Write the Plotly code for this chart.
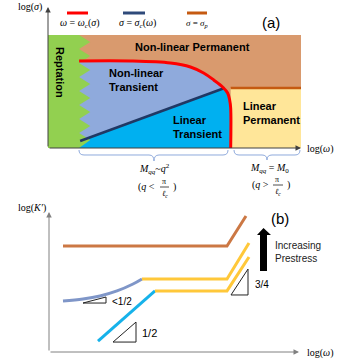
import plotly.graph_objects as go

W, H = 340, 364

# ---------------- Panel (a): regime map, log(omega) vs log(sigma) (arbitrary log units 0-10)
box_x = [0, 10, 10, 0]
box_y = [0, 0, 10, 10]
# reptation zig-zag boundary (top to bottom)
rept_x = [1.23, 1.67, 1.23, 1.67, 1.23, 1.67, 1.23, 1.67, 1.23, 1.67, 1.23, 1.67, 1.23, 1.67, 1.23, 1.67, 1.23]
rept_y = [10.0, 9.38, 8.76, 8.14, 7.52, 6.90, 6.28, 5.66, 5.04, 4.42, 3.81, 3.19, 2.57, 1.95, 1.33, 0.71, 0.0]
# omega = omega_c(sigma)
wc_x = [1.23, 3.25, 4.84, 5.63, 6.15, 6.55, 6.90, 7.10, 7.18, 7.22, 7.22]
wc_y = [7.70, 7.70, 7.52, 7.17, 6.64, 6.02, 5.40, 4.87, 4.25, 3.54, 0.0]
# sigma = sigma_c(omega)
sc_x = [1.27, 6.98]
sc_y = [0.62, 5.31]
# sigma = sigma_p
sp_x = [7.22, 10.0]
sp_y = [5.31, 5.31]

# ---------------- Panel (b): log(K') vs log(omega)
hi_x = [0.56, 7.12, 7.88]
hi_y = [7.36, 7.36, 9.44]
nl_x = [0.56, 1.36, 2.04, 2.72, 3.36, 3.72]
nl_y = [3.54, 3.68, 3.89, 4.24, 4.72, 5.07]
mid_x = [3.72, 7.12, 8.0]
mid_y = [5.07, 5.07, 7.57]
lin_x = [1.96, 4.24]
lin_y = [0.76, 4.24]
low_x = [4.24, 7.12, 8.0]
low_y = [4.24, 4.24, 6.60]
tri1_x = [1.36, 2.28, 2.28, 1.36]
tri1_y = [3.40, 3.40, 3.82, 3.40]
tri2_x = [2.56, 3.48, 3.48, 2.56]
tri2_y = [0.69, 0.69, 2.08, 0.69]
tri3_x = [7.28, 7.96, 7.96, 7.28]
tri3_y = [3.96, 3.96, 5.76, 3.96]
arrow_x = [8.44, 8.72, 8.72, 8.88, 8.58, 8.32, 8.44, 8.44]
arrow_y = [5.63, 5.63, 8.13, 8.13, 8.61, 8.13, 8.13, 5.63]

C = dict(tan="#D99A6E", green="#92D050", bluegray="#8FAADC", cyan="#00B0F0",
         yellow="#FFE699", red="#FF0000", navy="#203864", orange="#C55A11",
         b_orange="#CC7844", b_yellow="#FFC83A", b_bluegray="#7F96C8", b_cyan="#16B2EA")

fig = go.Figure()


def poly(x, y, color, ax="a"):
    fig.add_trace(go.Scatter(x=x, y=y, fill="toself", fillcolor=color, mode="lines",
                             line=dict(width=0, color=color), hoverinfo="skip",
                             xaxis="x" if ax == "a" else "x2", yaxis="y" if ax == "a" else "y2"))


def line(x, y, color, width, ax="a", shape="linear"):
    fig.add_trace(go.Scatter(x=x, y=y, mode="lines", line=dict(color=color, width=width, shape=shape),
                             hoverinfo="skip",
                             xaxis="x" if ax == "a" else "x2", yaxis="y" if ax == "a" else "y2"))


# panel a regions
poly(box_x, box_y, C["tan"])
poly(wc_x + [1.23], wc_y + [0.0], C["bluegray"])
poly(sc_x + wc_x[-4:] + [1.0], sc_y + wc_y[-4:] + [0.0], C["cyan"])
poly([sp_x[0], sp_x[1], sp_x[1], sp_x[0]], [0, 0, sp_y[0], sp_y[0]], C["yellow"])
poly([0] + rept_x + [0], [10] + rept_y + [0], C["green"])
line(sc_x, sc_y, C["navy"], 2.5)
line(wc_x, wc_y, C["red"], 3, shape="spline")
line(sp_x, sp_y, C["orange"], 2.5)

# panel b
line(hi_x, hi_y, C["b_orange"], 3, ax="b")
line(nl_x, nl_y, C["b_bluegray"], 3, ax="b", shape="spline")
line(mid_x, mid_y, C["b_yellow"], 3, ax="b")
line(lin_x, lin_y, C["b_cyan"], 3, ax="b")
line(low_x, low_y, C["b_yellow"], 3, ax="b")
for tx, ty in [(tri1_x, tri1_y), (tri2_x, tri2_y), (tri3_x, tri3_y)]:
    line(tx, ty, "#222222", 1, ax="b")
poly(arrow_x, arrow_y, "#000000", ax="b")


def px(x):
    return x / W


def py(y):
    return 1 - y / H


ann = []
SANS = "Liberation Sans, Arial, sans-serif"
SERIF = "Liberation Serif, DejaVu Serif, serif"


def txt(x, y, s, size, family=SANS, color="black", xanchor="center", align="center", angle=0):
    ann.append(dict(x=px(x), y=py(y), xref="paper", yref="paper", text=s, showarrow=False,
                    font=dict(family=family, size=size, color=color), xanchor=xanchor,
                    yanchor="middle", align=align, textangle=angle))


def arrow(x0, y0, x1, y1, color):
    ann.append(dict(x=px(x1), y=py(y1), xref="paper", yref="paper", text="", showarrow=True,
                    ax=x0 - x1, ay=y0 - y1, arrowhead=2, arrowsize=1.1, arrowwidth=1,
                    arrowcolor=color, standoff=0, startstandoff=0))


# axes arrows
arrow(48, 148, 48, 7, "#404040")
arrow(48, 148, 301, 148, "#404040")
arrow(49, 352, 49, 212, "#808080")
arrow(49, 352, 299, 352, "#808080")

# region labels
txt(60, 72, "<b>Reptation</b>", 11, angle=90)
txt(192, 47, "<b>Non-linear Permanent</b>", 11)
txt(107, 80, "<b>Non-linear<br>Transient</b>", 11, xanchor="left", align="left")
txt(171, 127, "<b>Linear<br>Transient</b>", 11, xanchor="left", align="left")
txt(241, 113, "<b>Linear<br>Permanent</b>", 11, xanchor="left", align="left")

# legend text
txt(80, 24, "<i>ω</i> = <i>ω<sub>c</sub></i>(<i>σ</i>)", 10, family=SERIF)
txt(137, 24, "<i>σ</i> = <i>σ<sub>c</sub></i>(<i>ω</i>)", 10, family=SERIF)
txt(197, 24, "<i>σ</i> = <i>σ<sub>p</sub></i>", 9, family=SERIF)
txt(271, 22, "(a)", 15)
txt(280, 218, "(b)", 15)

# axis titles
txt(30, 7, "log(<i>σ</i>)", 10, family=SERIF)
txt(320, 149, "log(<i>ω</i>)", 10, family=SERIF)
txt(32, 208, "log(<i>K′</i>)", 10, family=SERIF)
txt(320, 353, "log(<i>ω</i>)", 10, family=SERIF)

# bracket labels
txt(154, 169, "<i>M<sub>qq</sub></i>~<i>q</i><sup>2</sup>", 10, family=SERIF)
txt(157, 187, "(<i>q</i> <", 10, family=SERIF, xanchor="right")
txt(164, 181, "π", 8, family=SERIF)
txt(165, 194, "<i>ℓ<sub>c</sub></i>", 8, family=SERIF)
txt(171, 187, ")", 10, family=SERIF, xanchor="left")
txt(269, 168, "<i>M<sub>qq</sub></i> = <i>M</i><sub>0</sub>", 10, family=SERIF)
txt(271, 185, "(<i>q</i> >", 10, family=SERIF, xanchor="right")
txt(277, 179, "π", 8, family=SERIF)
txt(278, 192, "<i>ℓ<sub>c</sub></i>", 8, family=SERIF)
txt(285, 185, ")", 10, family=SERIF, xanchor="left")

# panel b labels
txt(110, 301, "<1/2", 10, xanchor="left")
txt(140, 333, "1/2", 11, xanchor="left")
txt(253, 284, "3/4", 10, xanchor="left")
txt(273, 252, "Increasing<br>Prestress", 10, xanchor="left", align="left", color="#222222")

shapes = []


def seg(x0, y0, x1, y1, color, width):
    shapes.append(dict(type="line", xref="paper", yref="paper", x0=px(x0), y0=py(y0),
                       x1=px(x1), y1=py(y1), line=dict(color=color, width=width)))


seg(67, 13, 88, 13, C["red"], 3)
seg(123, 13, 145, 13, "#2F4A7A", 3)
seg(187, 13, 207, 13, C["orange"], 3)
seg(160, 187, 169, 187, "#222222", 0.8)
seg(273, 185, 283, 185, "#222222", 0.8)


def bracket(x0, x1, xm, top, mid, tip):
    pts = [("M", x0, top), ("Q", x0, mid), ("", x0 + 5, mid), ("L", xm - 5, mid),
           ("Q", xm, mid), ("", xm, tip), ("Q", xm, mid), ("", xm + 5, mid),
           ("L", x1 - 5, mid), ("Q", x1, mid), ("", x1, top)]
    s = " ".join(f"{c}{px(a):.5f},{py(b):.5f}" for c, a, b in pts)
    shapes.append(dict(type="path", xref="paper", yref="paper", path=s,
                       line=dict(color="#8FAADC", width=1)))


bracket(79, 228, 154, 150, 155, 161)
bracket(234, 300, 267, 150, 155, 160)

hidden = dict(visible=False, range=[0, 10], fixedrange=True)
fig.update_layout(
    width=W, height=H, margin=dict(l=0, r=0, t=0, b=0),
    paper_bgcolor="white", plot_bgcolor="rgba(0,0,0,0)", showlegend=False,
    xaxis=dict(domain=[48 / W, 301 / W], anchor="y", **hidden),
    yaxis=dict(domain=[1 - 148 / H, 1 - 35 / H], anchor="x", **hidden),
    xaxis2=dict(domain=[49 / W, 299 / W], anchor="y2", **hidden),
    yaxis2=dict(domain=[1 - 352 / H, 1 - 208 / H], anchor="x2", **hidden),
    annotations=ann, shapes=shapes,
)

fig.write_html("out.html", config={"displayModeBar": False},
               post_script="document.body.style.margin='0px';")
